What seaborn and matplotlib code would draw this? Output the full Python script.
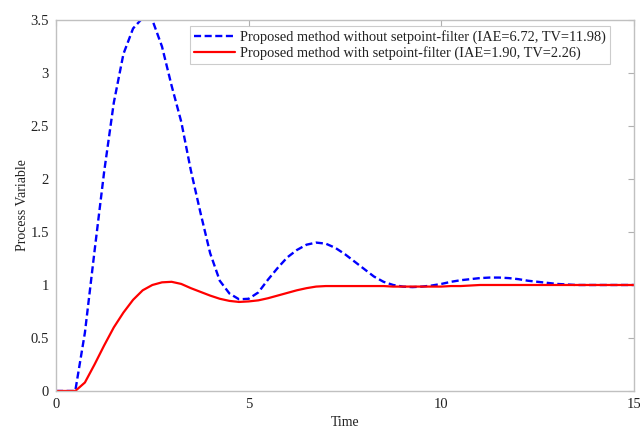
import numpy as np
import pandas as pd
import matplotlib
matplotlib.use("Agg")
import matplotlib.pyplot as plt
import seaborn as sns

time = [0, 0.25, 0.5, 0.75, 1.0, 1.25, 1.5, 1.75, 2.0, 2.25, 2.5, 2.75, 3.0, 3.25, 3.5, 3.75,
        4.0, 4.25, 4.5, 4.75, 5.0, 5.25, 5.5, 5.75, 6.0, 6.25, 6.5, 6.75, 7.0, 7.25, 7.5, 7.75,
        8.0, 8.25, 8.5, 8.75, 9.0, 9.25, 9.5, 9.75, 10.0, 10.25, 10.5, 10.75, 11.0, 11.25, 11.5,
        11.75, 12.0, 12.25, 12.5, 12.75, 13.0, 13.25, 13.5, 13.75, 14.0, 14.25, 14.5, 14.75, 15.0]

without_filter = [0, 0, 0, 0.55, 1.32, 2.07, 2.72, 3.18, 3.42, 3.52, 3.50, 3.25, 2.88, 2.54, 2.08, 1.68,
                  1.30, 1.04, 0.92, 0.865, 0.87, 0.93, 1.05, 1.16, 1.26, 1.33, 1.38, 1.40, 1.39, 1.35, 1.29, 1.22,
                  1.15, 1.08, 1.03, 1.00, 0.985, 0.98, 0.985, 0.995, 1.01, 1.03, 1.045, 1.055, 1.065, 1.07, 1.07,
                  1.065, 1.055, 1.04, 1.03, 1.02, 1.01, 1.005, 1.0, 1.0, 1.0, 1.0, 1.0, 1.0, 1.0]

with_filter = [0, 0, 0, 0.08, 0.25, 0.43, 0.60, 0.74, 0.86, 0.95, 1.00, 1.025, 1.03, 1.01, 0.97, 0.935,
               0.90, 0.87, 0.85, 0.84, 0.845, 0.855, 0.875, 0.90, 0.925, 0.95, 0.97, 0.985, 0.99, 0.99, 0.99, 0.99,
               0.99, 0.99, 0.99, 0.985, 0.985, 0.985, 0.985, 0.985, 0.985, 0.99, 0.99, 0.995, 1.0, 1.0, 1.0,
               1.0, 1.0, 1.0, 1.0, 1.0, 1.0, 1.0, 1.0, 1.0, 1.0, 1.0, 1.0, 1.0, 1.0]

label_without = "Proposed method without setpoint-filter (IAE=6.72, TV=11.98)"
label_with = "Proposed method with setpoint-filter (IAE=1.90, TV=2.26)"

xticks = [0, 5, 10, 15]
xtick_labels = ["0", "5", "10", "15"]
yticks = [0, 0.5, 1, 1.5, 2, 2.5, 3, 3.5]
ytick_labels = ["0", "0.5", "1", "1.5", "2", "2.5", "3", "3.5"]

sns.set_theme(style="white")
plt.rcParams["font.family"] = ["Liberation Serif", "DejaVu Serif"]

df = pd.DataFrame({
    "Time": time * 2,
    "Process Variable": without_filter + with_filter,
    "series": [label_without] * len(time) + [label_with] * len(time),
})

fig = plt.figure(figsize=(6.4, 4.29), dpi=100)
ax = fig.add_axes([0.0875, 0.0886, 0.9032, 0.8648])

sns.lineplot(data=df[df.series == label_without], x="Time", y="Process Variable",
             color="#0000ff", linewidth=1.7, linestyle=(0, (3, 1.5)), ax=ax, label=label_without)
sns.lineplot(data=df[df.series == label_with], x="Time", y="Process Variable",
             color="#ff0000", linewidth=1.6, ax=ax, label=label_with)

ax.set_xlim(0, 15)
ax.set_ylim(0, 3.5)
ax.set_xticks(xticks)
ax.set_xticklabels(xtick_labels)
ax.set_yticks(yticks)
ax.set_yticklabels(ytick_labels)
ax.tick_params(direction="in", length=4, width=0.8, color="#b0b0b0", labelsize=10.5,
               labelcolor="#222222", top=True, right=True, pad=5)
for s in ax.spines.values():
    s.set_color("#c0c0c0")
    s.set_linewidth(1.0)
ax.set_xlabel("Time", fontsize=10, color="#222222", labelpad=4)
ax.set_ylabel("Process Variable", fontsize=10, color="#222222", labelpad=1)

leg = ax.legend(loc="upper right", bbox_to_anchor=(0.958, 0.985), fontsize=10.4, frameon=True,
                fancybox=False, edgecolor="#c0c0c0", handlelength=2.8, handletextpad=0.35,
                borderpad=0.3, labelspacing=0.15, borderaxespad=0.0)
leg.get_frame().set_linewidth(0.8)
for t in leg.get_texts():
    t.set_color("#222222")

fig.savefig("out.png", dpi=100)
